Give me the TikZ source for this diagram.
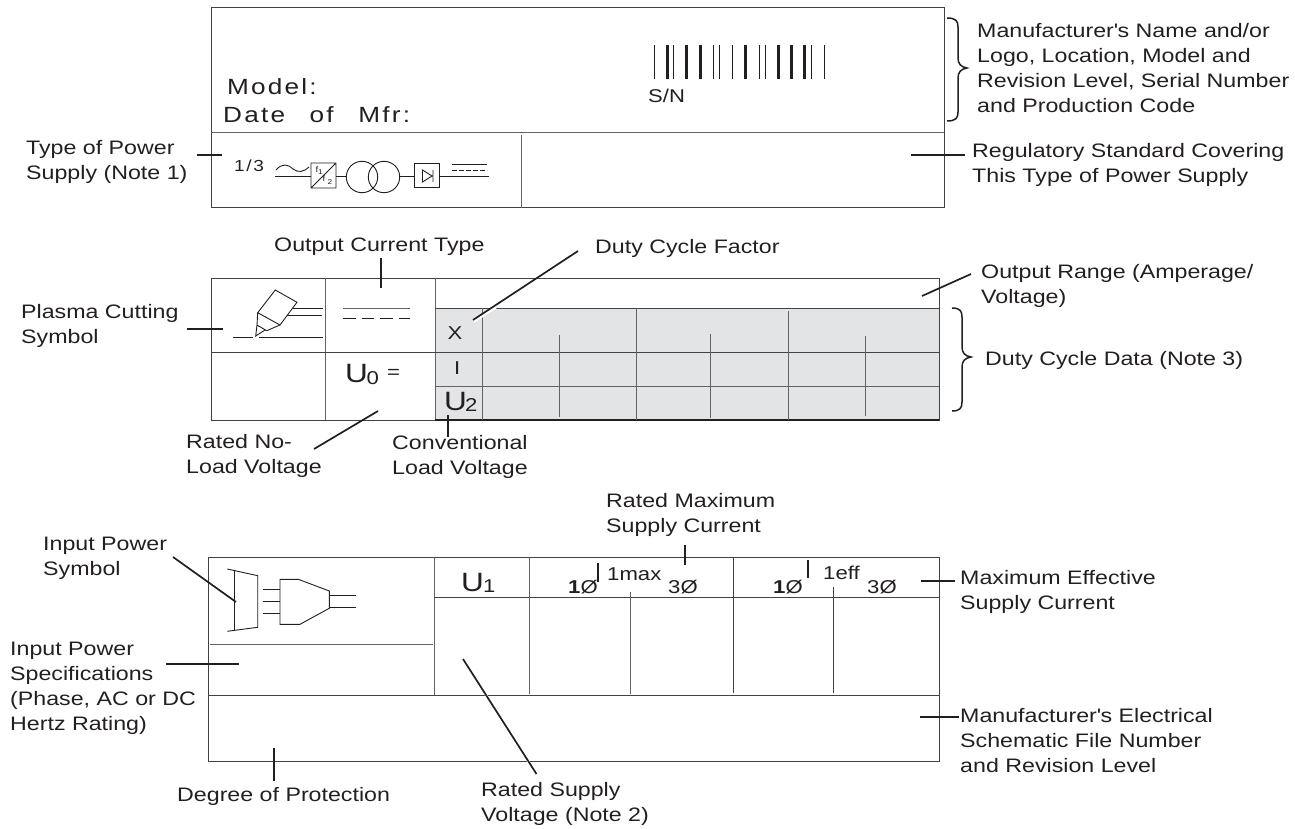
\documentclass[tikz,border=0pt]{standalone}
\usepackage{fontspec}
\setmainfont[FakeStretch=1.19]{Liberation Sans}
\newfontfamily\platefont[FakeStretch=1.19,LetterSpace=10,WordSpace=2.6]{Liberation Sans}
\usepackage{xcolor}
\usetikzlibrary{positioning,calc}
\definecolor{ink}{HTML}{231F20}
\definecolor{plategrey}{HTML}{E3E4E6}
\tikzset{
  frame/.style={draw=ink!85, line width=1pt},
  rule/.style={draw=ink!70, line width=1pt},
  callout/.style={draw=ink, line width=1.7pt},
  symbol/.style={draw=ink, line width=0.9pt},
  curly/.style={draw=ink, line width=1.5pt},
  lbl/.style={text=ink, font=\fontsize{19.5}{25}\selectfont, align=left, anchor=north west,
    inner sep=0pt, execute at begin node=\strut},
  tag/.style={text=ink, font=\fontsize{18.6}{24}\selectfont, anchor=base west, inner sep=0pt},
  big/.style={text=ink, font=\fontsize{26.5}{30}\selectfont, anchor=base west, inner sep=0pt},
  plate/.style={text=ink, font=\fontsize{22}{26}\platefont, anchor=base west, inner sep=0pt},
}
\begin{document}
\begin{tikzpicture}[x=1pt,y=-1pt]
\useasboundingbox (0,0) rectangle (1295,829);

\def\drawcurly#1#2#3#4#5{
  \draw[curly] (#1,#3) .. controls (#2-2,#3) and (#2,#3+3) .. (#2,#3+9) -- (#2,#4-10)
    .. controls (#2,#4-4) and (#2+3,#4-1) .. (#2+9,#4) .. controls (#2+3,#4+1) and (#2,#4+4) .. (#2,#4+10)
    -- (#2,#5-9) .. controls (#2,#5-3) and (#2-2,#5) .. (#1,#5);
}
\def\leader#1#2#3{
  \coordinate (#1a) at #2;
  \coordinate (#1b) at #3;
  \draw[callout] (#1a) -- (#1b);
}

% top plate
\draw[frame] (211,8) rectangle (944,208);
\draw[rule] (211,133) -- (944,133);
\draw[rule] (521,135) -- (521,208);
\node[plate] (model) at (227,95) {Model:};
\node[plate] (datemfr) at (223,123) {Date of Mfr:};
\foreach \x/\w in {654.3/1, 667.3/3, 673.7/1, 686.7/3, 700.3/3.2, 713.3/1, 719.3/1, 732.3/1,
                   745.7/3, 759/1, 765/1, 778/3, 791.7/3, 804.7/3, 811/1, 824/1}
  \draw[draw=ink, line width=\w pt] (\x,45) -- (\x,79);
\node[text=ink, font=\fontsize{18.5}{20}\selectfont, anchor=base west, inner sep=0pt] (sn) at (648,103) {S/N};

% power supply symbol
\node[text=ink, font=\fontsize{16}{20}\platefont, anchor=base west, inner sep=0pt] (phase) at (234,172) {1/3};
\draw[symbol] (276,170) .. controls (282,163) and (288,164) .. (293,169) .. controls (298,173) and (304,172) .. (309,167);
\draw[symbol] (275,176) -- (311,176);
\draw[symbol] (311,163) rectangle (336,188) (311,188) -- (336,163);
\node[text=ink, font=\fontsize{8}{9}\selectfont, inner sep=0pt] (fone) at (317,169.5) {f};
\node[text=ink, font=\fontsize{7}{9}\selectfont, inner sep=0pt] (fonesub) at (320.5,172.5) {1};
\node[text=ink, font=\fontsize{8}{9}\selectfont, inner sep=0pt] (ftwo) at (324,179) {f};
\node[text=ink, font=\fontsize{7}{9}\selectfont, inner sep=0pt] (ftwosub) at (330,182) {2};
\draw[symbol] (336,176) -- (347,176);
\draw[symbol] (362,177) circle (15.7);
\draw[symbol] (384,177) circle (15.7);
\draw[symbol] (400,176) -- (414,176);
\draw[symbol] (414,163) rectangle (439,187);
\draw[symbol] (422.5,170) -- (432,176) -- (422.5,182) -- cycle (433,170) -- (433,182);
\draw[symbol] (439,176) -- (489,176);
\draw[symbol] (452,164) -- (487,164);
\draw[symbol, dash pattern=on 5pt off 2pt] (452,170) -- (487,170);

\leader{type}{(197,155)}{(222,155)}
\leader{standard}{(911,155)}{(965,155)}
\drawcurly{947}{958}{18}{68}{121}
\node[lbl] (typelbl) at (26,140) {Type of Power\\Supply (Note 1)};
\node[lbl] (makerlbl) at (977,23) {Manufacturer\textquotesingle s Name and/or\\Logo, Location, Model and\\Revision Level, Serial Number\\and Production Code};
\node[lbl] (standardlbl) at (972,143) {Regulatory Standard Covering\\This Type of Power Supply};

% output table
\fill[plategrey] (435,308) rectangle (939,420);
\draw[frame] (211,278) rectangle (939,420);
\draw[rule] (325,278) -- (325,420);
\draw[rule] (435,278) -- (435,420);
\draw[frame] (211,352) -- (939,352);
\draw[frame] (435,308) -- (939,308);
\draw[rule] (435,386) -- (939,386);
\draw[draw=ink, line width=2pt] (435,420) -- (939,420);
\foreach \x/\y in {482/308, 636.5/308, 788/311}
  \draw[rule] (\x,\y) -- (\x,420);
\foreach \x/\y/\z in {559.5/335/417, 710/334/418, 865.5/336/416}
  \draw[rule] (\x,\y) -- (\x,\z);

% plasma torch
\draw[symbol] (257.7,312.7) -- (275.3,290) -- (297,302.3) -- (280,325) -- cycle
  (257.7,312.7) -- (257,325) -- (266.7,330.7) -- (280,325)
  (257,325) -- (255.7,336) -- (265,330);
\draw[symbol] (293.3,308.3) -- (322.7,308.3);
\draw[symbol] (286.7,315.7) -- (321.7,315.7);
\draw[symbol] (233.3,337.3) -- (253.3,337.3);
\draw[symbol] (259.3,337.7) -- (322.7,337.7);
\draw[rule] (343,308) -- (410,308);
\draw[symbol, dash pattern=on 12.5pt off 6pt] (343,318) -- (410,318);

\node[big] (uzero) at (345,382) {U};
\node[tag] (uzerosub) at (366.5,384) {0};
\node[tag] (uzeroeq) at (387,378) {=};
\node[tag] (xmark) at (447.5,339) {X};
\node[tag] (imark) at (454,374) {I};
\node[big] (utwo) at (444,410) {U};
\node[tag] (utwosub) at (465,411) {2};

% duty cycle callout runs over a white edge
\draw[draw=white, line width=2.5pt] (474,321.5) -- (510,298);
\leader{duty}{(578,251)}{(473,320)}
\leader{current}{(381,258)}{(381,288)}
\leader{range}{(971,274)}{(922,296)}
\leader{plasma}{(187,329)}{(222.5,329)}
\leader{noload}{(314,449)}{(378,411)}
\leader{conv}{(448,415)}{(448,437)}
\drawcurly{952}{962}{308}{357}{411}
\node[lbl] (currentlbl) at (274,234) {Output Current Type};
\node[lbl] (dutylbl) at (595,236) {Duty Cycle Factor};
\node[lbl] (rangelbl) at (981,264) {Output Range (Amperage/\\Voltage)};
\node[lbl] (datalbl) at (985,348) {Duty Cycle Data (Note 3)};
\node[lbl] (plasmalbl) at (21,304) {Plasma Cutting\\Symbol};
\node[lbl] (noloadlbl) at (186,434) {Rated No-\\Load Voltage};
\node[lbl] (convlbl) at (392,435) {Conventional\\Load Voltage};

% input table
\draw[frame] (208,557) rectangle (939,761);
\draw[rule] (434,557) -- (434,695);
\draw[frame] (434,597) -- (939,597);
\draw[rule] (210,644) -- (433,644);
\draw[frame] (208,695) -- (939,695);
\draw[rule] (529,557) -- (529,694);
\draw[rule] (630,592) -- (630,694);
\draw[frame] (733,557) -- (733,693);
\draw[frame] (833,587) -- (833,693);

% input power symbol
\draw[symbol] (227.3,569) -- (257.7,575.7) -- (257.7,627.3) -- (227.3,631.3);
\draw[symbol] (234,570.7) -- (234,630);
\foreach \y in {589, 601.3, 613.7}
  \draw[symbol] (263.3,\y) -- (280,\y);
\draw[symbol] (280,579.3) -- (298.3,579.3) -- (329.3,591) -- (329.3,608.3) -- (300,624.3) -- (280,624.3) -- cycle;
\draw[symbol] (329.3,595) -- (356,595);
\draw[symbol] (329.3,607.7) -- (356,607.7);

\node[big] (uone) at (461,591) {U};
\node[tag] (uonesub) at (483,592) {1};
\node[tag] (ph1a) at (568,593) {\textbf{1}Ø};
\draw[draw=ink, line width=2.2pt] (598,563) -- (598,582);
\node[tag] (maxlbl) at (607,580) {1max};
\node[tag] (ph3a) at (668,593) {3Ø};
\node[tag] (ph1b) at (773,593) {\textbf{1}Ø};
\draw[draw=ink, line width=2.2pt] (808,560) -- (808,578);
\node[tag] (efflbl) at (823,579) {1eff};
\node[tag] (ph3b) at (867,593) {3Ø};

\draw[draw=white, line width=2.5pt] (463,659) -- (536.5,774);
\leader{maxsup}{(685,545)}{(685,565)}
\leader{effsup}{(921,581)}{(955,581)}
\leader{schem}{(920,717)}{(959,717)}
\leader{volt}{(463,659)}{(536.5,774)}
\leader{degree}{(274,748)}{(274,781)}
\leader{insym}{(173,557)}{(236,602)}
\leader{inspec}{(166,664)}{(239,664)}
\node[lbl] (maxsuplbl) at (606,493) {Rated Maximum\\Supply Current};
\node[lbl] (insymlbl) at (43,537) {Input Power\\Symbol};
\node[lbl] (effsuplbl) at (960,570) {Maximum Effective\\Supply Current};
\node[lbl] (inspeclbl) at (10,642) {Input Power\\Specifications\\(Phase, AC or DC\\Hertz Rating)};
\node[lbl] (schemlbl) at (960,708) {Manufacturer\textquotesingle s Electrical\\Schematic File Number\\and Revision Level};
\node[lbl] (degreelbl) at (177,784) {Degree of Protection};
\node[lbl] (voltlbl) at (481,782) {Rated Supply\\Voltage (Note 2)};

\end{tikzpicture}
\end{document}
